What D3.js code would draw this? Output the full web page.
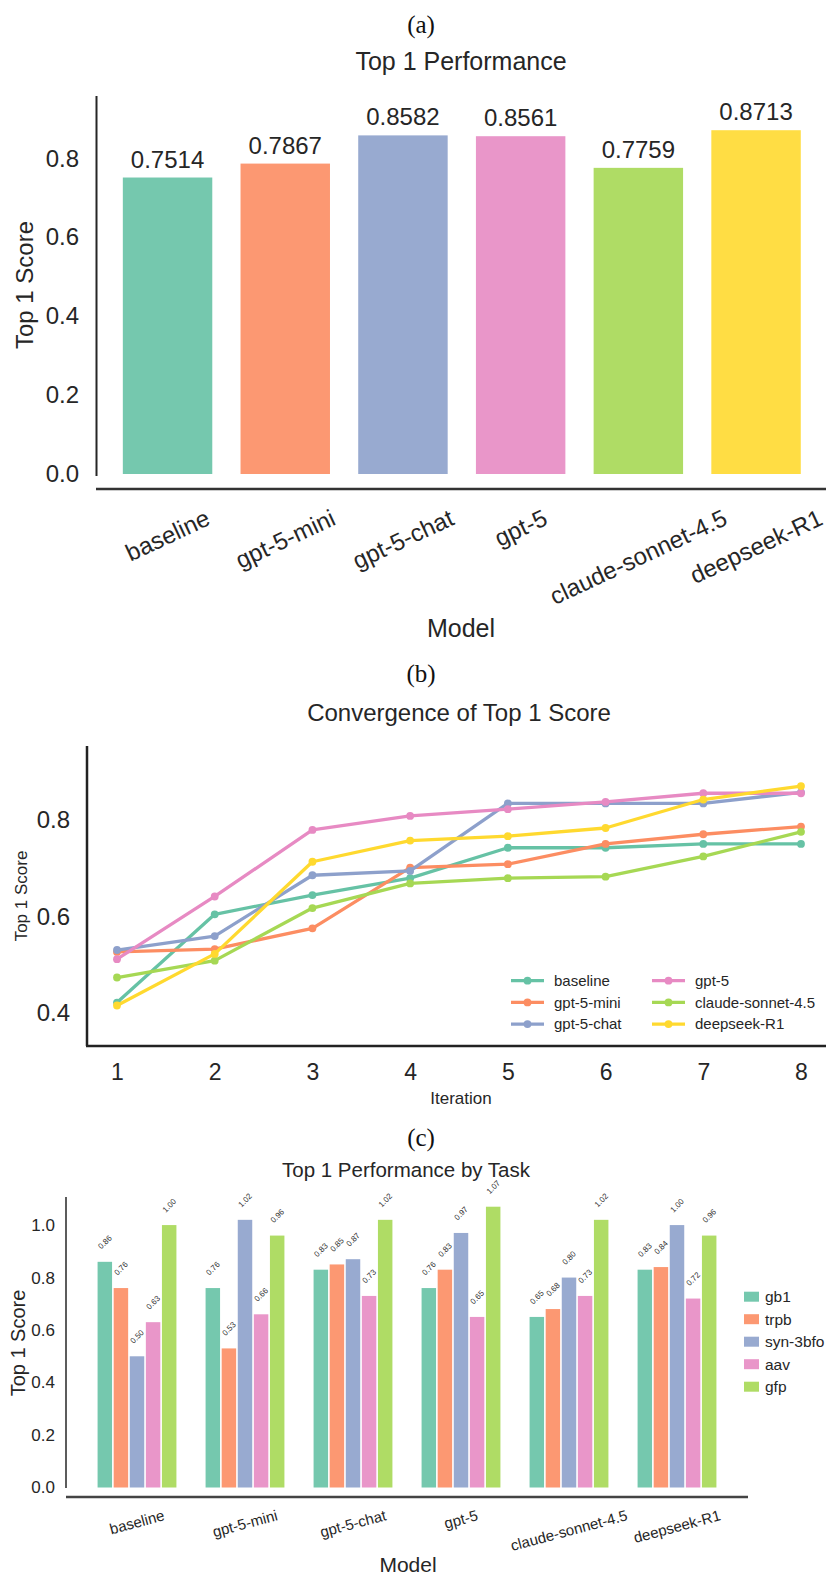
<!DOCTYPE html>
<html><head><meta charset="utf-8">
<script src="https://cdn.jsdelivr.net/npm/d3@7"></script>
<style>
body{margin:0;background:#fff;}
svg{display:block;font-family:"Liberation Sans",Arial,Helvetica,sans-serif;}
</style></head><body>
<svg id="chart" width="826" height="1576"></svg>
<script>
// ---------- data ----------
const models = ["baseline","gpt-5-mini","gpt-5-chat","gpt-5","claude-sonnet-4.5","deepseek-R1"];
const top1Scores = [0.7514,0.7867,0.8582,0.8561,0.7759,0.8713];
const yTicksA = [0,0.2,0.4,0.6,0.8];

const iterations = [1,2,3,4,5,6,7,8];
const convBaseline = [0.422,0.605,0.645,0.680,0.743,0.743,0.751,0.751];
const convMini     = [0.527,0.533,0.576,0.702,0.709,0.751,0.771,0.787];
const convChat     = [0.531,0.560,0.686,0.695,0.835,0.835,0.835,0.858];
const convGpt5     = [0.512,0.642,0.780,0.809,0.823,0.838,0.856,0.856];
const convClaude   = [0.474,0.509,0.618,0.669,0.680,0.683,0.725,0.776];
const convDeepseek = [0.416,0.523,0.714,0.758,0.767,0.784,0.843,0.871];
const yTicksB = [0.4,0.6,0.8];

const tasks = ["gb1","trpb","syn-3bfo","aav","gfp"];
const taskGb1 = [0.86,0.76,0.83,0.76,0.65,0.83];
const taskTrpb = [0.76,0.53,0.85,0.83,0.68,0.84];
const taskSyn = [0.50,1.02,0.87,0.97,0.80,1.00];
const taskAav = [0.63,0.66,0.73,0.65,0.73,0.72];
const taskGfp = [1.00,0.96,1.02,1.07,1.02,0.96];
const yTicksC = [0,0.2,0.4,0.6,0.8,1.0];

const palette = ["#66c2a5","#fc8d62","#8da0cb","#e78ac3","#a6d854","#ffd92f"];
const textColor = "#262626";
const barColor = c => d3.interpolateRgb(c, "#ffffff")(0.1);

const svg = d3.select("#chart");

function rotLabel(g, x, topY, text, fs, angle) {
  const t = g.append("text").text(text)
    .attr("font-size", fs).attr("fill", textColor)
    .attr("text-anchor", "middle").attr("dy", "0.35em");
  const L = t.node().getComputedTextLength();
  const a = angle * Math.PI / 180;
  const H = L * Math.sin(a) + 0.95 * fs * Math.cos(a);
  t.attr("transform", `translate(${x},${topY + H / 2}) rotate(${-angle})`);
}
function panelTag(txt, cy) {
  svg.append("text").text(txt).attr("x", 421).attr("y", cy + 6)
    .attr("text-anchor", "middle").attr("font-family", '"Liberation Serif","Times New Roman",serif')
    .attr("font-size", 25).attr("fill", "#111");
}
function styleAxis(g, fs) {
  g.select(".domain").remove();
  g.selectAll("text").attr("font-size", fs).attr("fill", textColor)
    .attr("font-family", '"Liberation Sans",Arial,sans-serif');
}

// ---------- panel (a) ----------
panelTag("(a)", 27);
svg.append("text").text("Top 1 Performance").attr("x", 461).attr("y", 70)
  .attr("text-anchor", "middle").attr("font-size", 25).attr("fill", textColor);

const xA = d3.scaleBand().domain(models).range([108.7, 814.9]).paddingInner(0.24).paddingOuter(0.12);
const yA = d3.scaleLinear().domain([0, 0.958]).range([474, 96]);
const gA = svg.append("g");
gA.selectAll("rect").data(models).join("rect")
  .attr("x", d => xA(d)).attr("width", xA.bandwidth())
  .attr("y", (d, i) => yA(top1Scores[i])).attr("height", (d, i) => yA(0) - yA(top1Scores[i]))
  .attr("fill", (d, i) => barColor(palette[i]));
gA.selectAll("text.val").data(models).join("text").attr("class", "val")
  .attr("x", d => xA(d) + xA.bandwidth() / 2)
  .attr("y", (d, i) => yA(top1Scores[i]) - 10)
  .attr("text-anchor", "middle").attr("font-size", 24).attr("fill", textColor)
  .text((d, i) => top1Scores[i].toFixed(4));
const axA = svg.append("g").attr("transform", "translate(96.5,0)")
  .call(d3.axisLeft(yA).tickValues(yTicksA).tickSize(0).tickPadding(17.5).tickFormat(d3.format(".1f")));
styleAxis(axA, 24);
svg.append("line").attr("x1", 96.5).attr("x2", 96.5).attr("y1", 96).attr("y2", 476)
  .attr("stroke", textColor).attr("stroke-width", 2);
svg.append("line").attr("x1", 96).attr("x2", 826).attr("y1", 489).attr("y2", 489)
  .attr("stroke", "#333").attr("stroke-width", 2.7);
const xlA = svg.append("g");
models.forEach(m => rotLabel(xlA, xA(m) + xA.bandwidth() / 2, 506, m, 24, 25));
svg.append("text").text("Model").attr("x", 461).attr("y", 637)
  .attr("text-anchor", "middle").attr("font-size", 25).attr("fill", textColor);
svg.append("text").text("Top 1 Score")
  .attr("transform", "translate(33,285) rotate(-90)")
  .attr("text-anchor", "middle").attr("font-size", 24).attr("fill", textColor);

// ---------- panel (b) ----------
panelTag("(b)", 676);
svg.append("text").text("Convergence of Top 1 Score").attr("x", 459).attr("y", 721)
  .attr("text-anchor", "middle").attr("font-size", 24).attr("fill", textColor);

const xB = d3.scaleLinear().domain([1, 8]).range([117, 801]);
const yB = d3.scaleLinear().domain([0.332, 0.954]).range([1046, 746]);
const series = [convBaseline, convMini, convChat, convGpt5, convClaude, convDeepseek];
const lineGen = d3.line().x((d, i) => xB(iterations[i])).y(d => yB(d));
const gB = svg.append("g");
series.forEach((s, k) => {
  gB.append("path").datum(s).attr("d", lineGen).attr("fill", "none")
    .attr("stroke", palette[k]).attr("stroke-width", 3.3).attr("stroke-linejoin", "round");
  gB.selectAll(null).data(s).join("circle")
    .attr("cx", (d, i) => xB(iterations[i])).attr("cy", d => yB(d)).attr("r", 3.9)
    .attr("fill", palette[k]);
});
const axBy = svg.append("g").attr("transform", "translate(87,0)")
  .call(d3.axisLeft(yB).tickValues(yTicksB).tickSize(0).tickPadding(17).tickFormat(d3.format(".1f")));
styleAxis(axBy, 24);
const axBx = svg.append("g").attr("transform", "translate(0,1046)")
  .call(d3.axisBottom(xB).tickValues(iterations).tickSize(0).tickPadding(18).tickFormat(d3.format("d")));
styleAxis(axBx, 23);
svg.append("line").attr("x1", 87).attr("x2", 87).attr("y1", 746).attr("y2", 1046)
  .attr("stroke", "#222").attr("stroke-width", 2.5);
svg.append("line").attr("x1", 86).attr("x2", 826).attr("y1", 1046).attr("y2", 1046)
  .attr("stroke", "#222").attr("stroke-width", 2.5);
svg.append("text").text("Iteration").attr("x", 461).attr("y", 1104)
  .attr("text-anchor", "middle").attr("font-size", 17).attr("fill", textColor);
svg.append("text").text("Top 1 Score")
  .attr("transform", "translate(27,896) rotate(-90)")
  .attr("text-anchor", "middle").attr("font-size", 17).attr("fill", textColor);
const legB = svg.append("g");
models.forEach((m, i) => {
  const col = Math.floor(i / 3), row = i % 3;
  const lx = 511 + col * 141, ly = 980.7 + row * 21.7;
  legB.append("line").attr("x1", lx).attr("x2", lx + 33).attr("y1", ly).attr("y2", ly)
    .attr("stroke", palette[i]).attr("stroke-width", 3.3);
  legB.append("circle").attr("cx", lx + 16.5).attr("cy", ly).attr("r", 3.9).attr("fill", palette[i]);
  legB.append("text").text(m).attr("x", lx + 43).attr("y", ly).attr("dy", "0.35em")
    .attr("font-size", 15).attr("fill", textColor);
});

// ---------- panel (c) ----------
panelTag("(c)", 1140);
svg.append("text").text("Top 1 Performance by Task").attr("x", 406).attr("y", 1177)
  .attr("text-anchor", "middle").attr("font-size", 20.5).attr("fill", textColor);
const xC = d3.scaleBand().domain(models).range([83, 731]).paddingInner(0.27).paddingOuter(0.135);
const xSub = d3.scaleBand().domain(tasks).range([0, xC.bandwidth()]).paddingInner(0.1);
const yC = d3.scaleLinear().domain([0, 1.107]).range([1487.5, 1197]);
const taskValues = [taskGb1, taskTrpb, taskSyn, taskAav, taskGfp];
const gC = svg.append("g");
tasks.forEach((t, k) => {
  models.forEach((m, i) => {
    const v = taskValues[k][i];
    const x = xC(m) + xSub(t);
    gC.append("rect").attr("x", x).attr("width", xSub.bandwidth())
      .attr("y", yC(v)).attr("height", yC(0) - yC(v)).attr("fill", barColor(palette[k]));
    const lab = gC.append("text").text(v.toFixed(2)).attr("font-size", 8)
      .attr("fill", "#333").attr("text-anchor", "middle").attr("dy", "0.35em");
    const L = lab.node().getComputedTextLength();
    const H = (L + 0.95 * 8) * Math.SQRT1_2;
    lab.attr("transform", `translate(${x + xSub.bandwidth() / 2},${yC(v) - 11.5 - H / 2}) rotate(-45)`);
  });
});
const axC = svg.append("g").attr("transform", "translate(66,0)")
  .call(d3.axisLeft(yC).tickValues(yTicksC).tickSize(0).tickPadding(11).tickFormat(d3.format(".1f")));
styleAxis(axC, 17);
svg.append("line").attr("x1", 66).attr("x2", 66).attr("y1", 1197).attr("y2", 1488)
  .attr("stroke", textColor).attr("stroke-width", 1.5);
svg.append("line").attr("x1", 66).attr("x2", 748).attr("y1", 1497).attr("y2", 1497)
  .attr("stroke", "#444").attr("stroke-width", 2.5);
const xlC = svg.append("g");
models.forEach(m => rotLabel(xlC, xC(m) + xC.bandwidth() / 2, 1508, m, 15, 15));
svg.append("text").text("Model").attr("x", 408).attr("y", 1572)
  .attr("text-anchor", "middle").attr("font-size", 21).attr("fill", textColor);
svg.append("text").text("Top 1 Score")
  .attr("transform", "translate(25,1343) rotate(-90)")
  .attr("text-anchor", "middle").attr("font-size", 20).attr("fill", textColor);
const legC = svg.append("g");
tasks.forEach((t, i) => {
  const ly = 1296.7 + i * 22.5;
  legC.append("rect").attr("x", 744).attr("y", ly - 5).attr("width", 15).attr("height", 10)
    .attr("fill", barColor(palette[i]));
  legC.append("text").text(t).attr("x", 765).attr("y", ly).attr("dy", "0.35em")
    .attr("font-size", 15.5).attr("fill", textColor);
});
</script>
</body></html>
